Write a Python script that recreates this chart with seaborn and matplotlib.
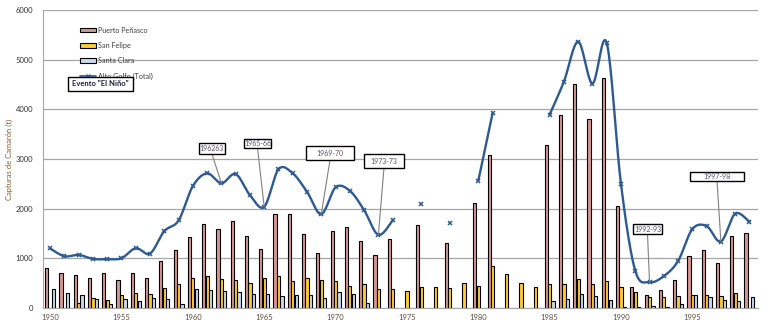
import numpy as np
import pandas as pd
import matplotlib
matplotlib.use("Agg")
import matplotlib.pyplot as plt
import seaborn as sns
from matplotlib.patches import Patch, Rectangle
from matplotlib.lines import Line2D

nan = np.nan
years = list(range(1950, 2000))

puerto_penasco = [815, 714, 673, 613, 714, 559, 714, 613, 942, 1158,
                  1420, 1688, 1581, 1749, 1440, 1184, 1884, 1884, 1481, 1117,
                  1547, 1622, 1339, 1077, 1386, nan, 1668, nan, 1306, nan,
                  2110, 3074, nan, nan, nan, 3275, 3890, 4512, 3810, 4632,
                  2045, 420, 257, 372, 561, 1041, 1169, 899, 1453, 1507]
san_felipe = [nan, nan, 109, 196, 169, 270, 310, 290, 411, 492,
              613, 653, 593, 573, 512, 599, 653, 553, 613, 573,
              553, 452, 492, 391, 382, 342, 422, 422, 402, 502,
              442, 844, 690, 502, 422, 482, 482, 588, 481, 541,
              421, 321, 230, 230, 250, 264, 270, 250, 297, nan]
santa_clara = [377, 310, 270, 175, 89, 175, 149, 196, 175, 89,
               391, 371, 337, 331, 290, 276, 236, 256, 256, 209,
               331, 276, 109, nan, nan, nan, nan, nan, nan, nan,
               nan, nan, nan, nan, nan, 141, 184, 281, 247, 160,
               30, 20, 35, 15, 88, 270, 216, 169, 149, 216]
alto_golfo_total = [1198, 1043, 1070, 989, 982, 1003, 1204, 1097, 1547, 1763,
                    2455, 2711, 2510, 2697, 2273, 2038, 2792, 2711, 2340, 1890,
                    2429, 2360, 1971, 1473, 1762, nan, 2096, nan, 1708, nan,
                    2559, 3918, nan, nan, nan, 3895, 4559, 5361, 4519, 5334,
                    2493, 750, 520, 642, 946, 1588, 1649, 1338, 1899, 1736]

series_names = ["Puerto Peñasco", "San Felipe", "Santa Clara"]
total_name = "Alto Golfo (Total)"
nino_labels = ["196263", "1965-66", "1969-70", "1973-73", "1992-93", "1997-98"]
nino_years = [1962, 1965, 1969, 1973, 1992, 1997]
xtick_years = list(range(1950, 2000, 5))
ylabel = "Capturas de Camarón (t)"
legend_title_box = 'Evento "El Niño"'

colors = {"Puerto Peñasco": "#D99694", "San Felipe": "#FFCC33", "Santa Clara": "#C9DCF0"}
line_color = "#2E5A94"

# long-form table for seaborn
rows = []
for name, vals in zip(series_names, [puerto_penasco, san_felipe, santa_clara]):
    for y, v in zip(years, vals):
        if not np.isnan(v):
            rows.append({"year": str(y), "site": name, "value": v})
df = pd.DataFrame(rows)

W, H = 778, 333
fig = plt.figure(figsize=(W / 100, H / 100), dpi=100)
sns.set_style("white")
plt.rcParams["font.family"] = ["Lato", "DejaVu Sans"]
ax = fig.add_axes([43 / W, 1 - 308 / H, (758 - 43) / W, (308 - 10) / H])

sns.barplot(data=df, x="year", y="value", hue="site", order=[str(y) for y in years],
            hue_order=series_names, palette=colors, width=0.72, gap=0.06,
            edgecolor="black", linewidth=0.8, saturation=1, legend=False, ax=ax, errorbar=None)

# smooth total line (Catmull-Rom), drawn per contiguous segment
xs = np.arange(len(years), dtype=float)
tv = np.array(alto_golfo_total, dtype=float)
segs = []
cur = []
for i, v in enumerate(tv):
    if np.isnan(v):
        if cur:
            segs.append(cur)
        cur = []
    else:
        cur.append(i)
if cur:
    segs.append(cur)

for seg in segs:
    px = xs[seg]
    py = tv[seg]
    if len(seg) == 1:
        continue
    P = np.column_stack([px, py])
    P = np.vstack([P[0], P, P[-1]])
    cx, cy = [], []
    t = np.linspace(0, 1, 20)
    for k in range(1, len(P) - 2):
        p0, p1, p2, p3 = P[k - 1], P[k], P[k + 1], P[k + 2]
        c = 0.5 * (2 * p1[None, :] + (-p0 + p2)[None, :] * t[:, None]
                   + (2 * p0 - 5 * p1 + 4 * p2 - p3)[None, :] * (t ** 2)[:, None]
                   + (-p0 + 3 * p1 - 3 * p2 + p3)[None, :] * (t ** 3)[:, None])
        cx.extend(c[:, 0]); cy.extend(c[:, 1])
    ax.plot(cx, cy, color=line_color, lw=1.7, zorder=5, solid_capstyle="round")

ax.plot(xs, tv, linestyle="none", marker="x", ms=3.5, mew=1.1, color=line_color, zorder=6)

ax.set_xlim(-0.5, 49.6)
ax.set_ylim(0, 6000)
ax.set_yticks(range(0, 6001, 1000))
ax.set_xticks([y - 1950 for y in xtick_years])
ax.set_xticklabels([str(y) for y in xtick_years])
ax.tick_params(axis="y", length=0, pad=7, labelsize=5.5, labelcolor="#333333")
ax.tick_params(axis="x", length=0, pad=4, labelsize=5.5, labelcolor="#5F4F3F")
ax.set_xlabel("")
ax.set_ylabel(ylabel, fontsize=5.5, color="#8A5A2A")
ax.yaxis.set_label_coords((13 - 43) / (758 - 43), 0.5)
ax.yaxis.grid(True, color="#A6A6A6", lw=0.9)
ax.set_axisbelow(True)
for s in ["top", "right"]:
    ax.spines[s].set_visible(False)
ax.spines["left"].set_color("#A6A6A6")
ax.spines["bottom"].set_color("#A6A6A6")

# legend
handles = [Patch(facecolor=colors[n], edgecolor="black", lw=0.8) for n in series_names]
handles.append(Line2D([], [], color=line_color, lw=1.2, marker="x", ms=3, mew=1))
leg = ax.legend(handles, series_names + [total_name], loc="upper left",
                bbox_to_anchor=(76 / W, 1 - 23 / H), bbox_transform=fig.transFigure,
                frameon=False, fontsize=5.2, handlelength=2.2, handleheight=0.6,
                handletextpad=0.3, labelspacing=1.15, borderpad=0)
for t in leg.get_texts():
    t.set_color("#404040")

def fig_box(x0, y0, x1, y1):
    fig.patches.append(Rectangle((x0 / W, 1 - y1 / H), (x1 - x0) / W, (y1 - y0) / H,
                                 transform=fig.transFigure, facecolor="white",
                                 edgecolor="black", lw=1.0, zorder=10))

fig_box(68, 77, 133, 91)
fig.text(100.5 / W, 1 - 84 / H, legend_title_box, ha="center", va="center",
         fontsize=5.5, fontweight="bold", color="#1F1F3F", zorder=11)

# El Niño annotation boxes (pixel layout) pointing at the total line
boxes = [(199, 143, 225, 154), (244, 139, 271, 148), (306, 146, 354, 160),
         (364, 154, 404, 168), (633, 224, 662, 234), (690, 172, 744, 181)]
for (x0, y0, x1, y1), lab, yr in zip(boxes, nino_labels, nino_years):
    i = yr - 1950
    ax.annotate("", xy=(i, tv[i]), xycoords="data",
                xytext=((x0 + x1) / 2 / W, 1 - y1 / H), textcoords="figure fraction",
                arrowprops=dict(arrowstyle="-", color="#808080", lw=0.8,
                                shrinkA=0, shrinkB=0), zorder=7)
    fig_box(x0, y0, x1, y1)
    fig.text((x0 + x1) / 2 / W, 1 - (y0 + y1) / 2 / H, lab, ha="center", va="center",
             fontsize=5, color="#5A5070", zorder=11)

fig.savefig("out.png", dpi=100)
